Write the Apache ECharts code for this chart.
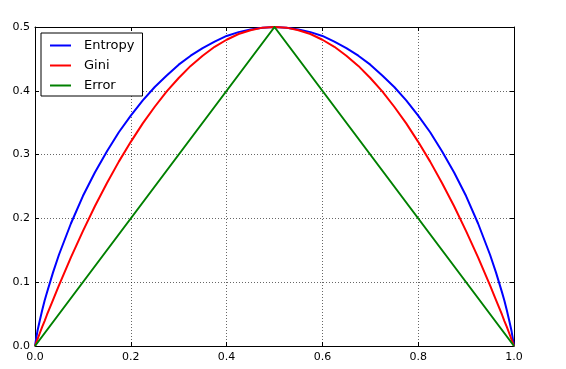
<!DOCTYPE html>
<html>
<head>
<meta charset="utf-8">
<script src="https://cdn.jsdelivr.net/npm/echarts@6/dist/echarts.min.js"></script>
<style>
  html, body { margin: 0; padding: 0; background: #fff; }
  #chart { width: 566px; height: 369px; }
</style>
</head>
<body>
<div id="chart"></div>
<script>
// values
const xs = [0, 0.005, 0.01, 0.015, 0.02, 0.025, 0.0375, 0.05, 0.075, 0.1, 0.125, 0.15, 0.175, 0.2, 0.225, 0.25,
  0.275, 0.3, 0.325, 0.35, 0.375, 0.4, 0.425, 0.45, 0.475, 0.5,
  0.525, 0.55, 0.575, 0.6, 0.625, 0.65, 0.675, 0.7, 0.725, 0.75, 0.775, 0.8, 0.825, 0.85, 0.875, 0.9,
  0.925, 0.95, 0.9625, 0.975, 0.98, 0.985, 0.99, 0.995, 1];
const entropy = [0, 0.023, 0.040, 0.056, 0.071, 0.084, 0.115, 0.143, 0.192, 0.235, 0.272, 0.305, 0.335, 0.361, 0.385, 0.406,
  0.424, 0.441, 0.455, 0.467, 0.477, 0.486, 0.492, 0.496, 0.499, 0.5,
  0.499, 0.496, 0.492, 0.486, 0.477, 0.467, 0.455, 0.441, 0.424, 0.406, 0.385, 0.361, 0.335, 0.305, 0.272, 0.235,
  0.192, 0.143, 0.115, 0.084, 0.071, 0.056, 0.040, 0.023, 0];
const gini = [0, 0.010, 0.020, 0.030, 0.039, 0.049, 0.072, 0.095, 0.139, 0.180, 0.219, 0.255, 0.289, 0.320, 0.349, 0.375,
  0.399, 0.420, 0.439, 0.455, 0.469, 0.480, 0.489, 0.495, 0.499, 0.5,
  0.499, 0.495, 0.489, 0.480, 0.469, 0.455, 0.439, 0.420, 0.399, 0.375, 0.349, 0.320, 0.289, 0.255, 0.219, 0.180,
  0.139, 0.095, 0.072, 0.049, 0.039, 0.030, 0.020, 0.010, 0];
const errX = [0, 0.5, 1];
const error = [0, 0.5, 0];
const names = ["Entropy", "Gini", "Error"];
const colors = ["#0000ff", "#ff0000", "#008000"];

const pairs = (x, y) => x.map((v, i) => [v, y[i]]);
const font = "DejaVu Sans";

const frameAxis = (extra) => Object.assign({
  type: "value",
  axisLine: { show: true, onZero: false, lineStyle: { color: "#000", width: 1 } },
  axisTick: { show: true, inside: true, length: 4, lineStyle: { color: "#000" } },
  splitLine: { show: false },
  axisLabel: { show: false },
}, extra);

const chart = echarts.init(document.getElementById("chart"));
chart.setOption({
  animation: false,
  grid: { left: 35, right: 52, top: 27, bottom: 23 },
  legend: {
    data: names,
    orient: "vertical",
    left: 41,
    top: 33,
    padding: [6, 8, 4, 9],
    itemGap: 7,
    itemWidth: 21,
    itemHeight: 2,
    icon: "rect",
    borderColor: "#000",
    borderWidth: 1,
    backgroundColor: "#fff",
    textStyle: { fontFamily: font, fontSize: 13, color: "#000", padding: [0, 0, 0, 8] },
  },
  xAxis: [
    frameAxis({
      min: 0, max: 1, interval: 0.2,
      splitLine: { show: true, lineStyle: { color: "#000", type: [1, 2], width: 0.6 } },
      axisLabel: { show: true, margin: 6, color: "#000", fontFamily: font, fontSize: 11,
        formatter: (v) => v.toFixed(1) },
    }),
    frameAxis({ min: 0, max: 1, interval: 0.2, position: "top" }),
  ],
  yAxis: [
    frameAxis({
      min: 0, max: 0.5, interval: 0.1,
      splitLine: { show: true, lineStyle: { color: "#000", type: [1, 2], width: 0.6 } },
      axisLabel: { show: true, margin: 5, color: "#000", fontFamily: font, fontSize: 11,
        formatter: (v) => v.toFixed(1) },
    }),
    frameAxis({ min: 0, max: 0.5, interval: 0.1, position: "right" }),
  ],
  series: [
    { name: names[0], type: "line", data: pairs(xs, entropy) },
    { name: names[1], type: "line", data: pairs(xs, gini) },
    { name: names[2], type: "line", data: pairs(errX, error) },
  ].map((s, i) => Object.assign(s, {
    symbol: "none",
    color: colors[i],
    lineStyle: { color: colors[i], width: 2, join: "round" },
    z: 3,
  })),
});
</script>
</body>
</html>
